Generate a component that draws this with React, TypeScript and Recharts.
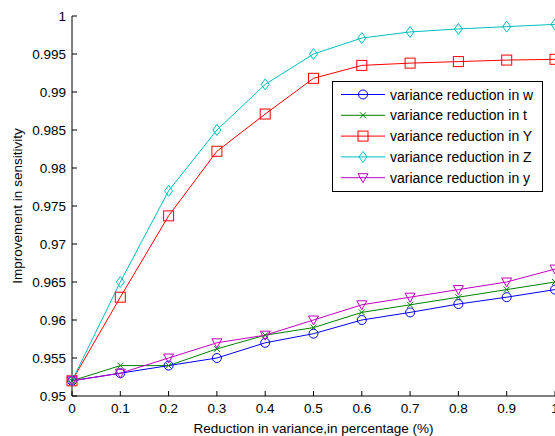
import { Legend, Line, LineChart, XAxis, YAxis } from 'recharts'

const X_VALUES = [0, 0.1, 0.2, 0.3, 0.4, 0.5, 0.6, 0.7, 0.8, 0.9, 1]
const W_VALUES = [0.952, 0.953, 0.954, 0.955, 0.957, 0.9582, 0.96, 0.961, 0.9621, 0.963, 0.964]
const T_VALUES = [0.952, 0.954, 0.954, 0.9562, 0.958, 0.959, 0.961, 0.962, 0.963, 0.964, 0.965]
const BIG_Y_VALUES = [0.952, 0.963, 0.9737, 0.9822, 0.9871, 0.9918, 0.9935, 0.9938, 0.994, 0.9942, 0.9943]
const Z_VALUES = [0.952, 0.965, 0.977, 0.985, 0.991, 0.995, 0.9971, 0.9979, 0.9983, 0.9986, 0.9989]
const SMALL_Y_VALUES = [0.952, 0.953, 0.955, 0.957, 0.958, 0.96, 0.962, 0.963, 0.964, 0.965, 0.9667]

const X_TICKS = [0, 0.1, 0.2, 0.3, 0.4, 0.5, 0.6, 0.7, 0.8, 0.9, 1]
const Y_TICKS = [0.95, 0.955, 0.96, 0.965, 0.97, 0.975, 0.98, 0.985, 0.99, 0.995, 1]

type Shape = 'circle' | 'x' | 'square' | 'diamond' | 'triangle'

const SERIES: { key: string; name: string; color: string; shape: Shape; values: number[] }[] = [
  { key: 'w', name: 'variance reduction in w', color: '#0000ff', shape: 'circle', values: W_VALUES },
  { key: 't', name: 'variance reduction in t', color: '#008000', shape: 'x', values: T_VALUES },
  { key: 'Y', name: 'variance reduction in Y', color: '#ff0000', shape: 'square', values: BIG_Y_VALUES },
  { key: 'Z', name: 'variance reduction in Z', color: '#00bfbf', shape: 'diamond', values: Z_VALUES },
  { key: 'y', name: 'variance reduction in y', color: '#bf00bf', shape: 'triangle', values: SMALL_Y_VALUES },
]

const rows = X_VALUES.map((x, i) => {
  const row: Record<string, number> = { x }
  SERIES.forEach((s) => {
    row[s.key] = s.values[i]
  })
  return row
})

const FONT = 'Arial, "Liberation Sans", Helvetica, sans-serif'

function Marker({ shape, cx, cy, color }: { shape: Shape; cx: number; cy: number; color: string }) {
  const common = { fill: 'none', stroke: color, strokeWidth: 1 }
  switch (shape) {
    case 'circle':
      return <circle cx={cx} cy={cy} r={4.5} {...common} />
    case 'x':
      return (
        <path
          d={`M${cx - 3},${cy - 3}L${cx + 3},${cy + 3}M${cx - 3},${cy + 3}L${cx + 3},${cy - 3}`}
          {...common}
        />
      )
    case 'square':
      return <rect x={cx - 5} y={cy - 5} width={10} height={10} {...common} />
    case 'diamond':
      return <path d={`M${cx},${cy - 5.5}L${cx + 4},${cy}L${cx},${cy + 5.5}L${cx - 4},${cy}Z`} {...common} />
    case 'triangle':
      return <path d={`M${cx - 5},${cy - 4}L${cx + 5},${cy - 4}L${cx},${cy + 5}Z`} {...common} />
  }
}

function markerDot(shape: Shape, color: string) {
  return (p: any) => (
    <g key={`dot-${p.index}`}>
      <Marker shape={shape} cx={p.cx} cy={p.cy} color={color} />
    </g>
  )
}

function LegendBox() {
  return (
    <svg width={211} height={111} style={{ display: 'block' }}>
      <rect x={0.5} y={0.5} width={210} height={110} fill="#fff" stroke="#000" strokeWidth={1} />
      {SERIES.map((s, i) => {
        const cy = 13.5 + i * 20.8
        return (
          <g key={s.key}>
            <line x1={9} x2={53} y1={cy} y2={cy} stroke={s.color} strokeWidth={1} />
            <Marker shape={s.shape} cx={31} cy={cy} color={s.color} />
            <text x={58} y={cy} dominantBaseline="central" fontSize={14} fontFamily={FONT} fill="#000">
              {s.name}
            </text>
          </g>
        )
      })}
    </svg>
  )
}

const fmt = (v: number) => String(Number(v.toFixed(3)))

export default function App() {
  const tickStyle = { fill: '#000', fontSize: 13.5, fontFamily: FONT }
  return (
    <div
      style={{
        position: 'absolute',
        left: 0,
        top: 0,
        width: 555,
        height: 436,
        overflow: 'hidden',
        background: '#fff',
      }}
    >
      <LineChart width={560} height={436} data={rows} margin={{ top: 16, right: 5, bottom: 0, left: 0 }}>
        <XAxis
          dataKey="x"
          type="number"
          domain={[0, 1]}
          ticks={X_TICKS}
          tickFormatter={fmt}
          height={40}
          stroke="#000"
          tickSize={-5}
          tickMargin={12}
          tick={tickStyle}
          interval={0}
          label={{
            value: 'Reduction in variance,in percentage (%)',
            position: 'insideBottom',
            offset: 3,
            fill: '#000',
            fontSize: 13.5,
            fontFamily: FONT,
          }}
        />
        <XAxis
          xAxisId="top"
          dataKey="x"
          type="number"
          orientation="top"
          domain={[0, 1]}
          ticks={X_TICKS}
          height={0}
          stroke="#000"
          tickSize={-5}
          tick={false}
          interval={0}
        />
        <YAxis
          type="number"
          domain={[0.95, 1]}
          ticks={Y_TICKS}
          tickFormatter={fmt}
          width={72}
          stroke="#000"
          tickSize={-5}
          tickMargin={11}
          tick={tickStyle}
          interval={0}
          label={{
            value: 'Improvement in sensitivity',
            angle: -90,
            position: 'center',
            dx: -19,
            fill: '#000',
            fontSize: 13.5,
            fontFamily: FONT,
          }}
        />
        <YAxis
          yAxisId="right"
          type="number"
          orientation="right"
          domain={[0.95, 1]}
          ticks={Y_TICKS}
          width={0}
          stroke="#000"
          tickSize={-5}
          tick={false}
          interval={0}
        />
        {SERIES.map((s) => (
          <Line
            key={s.key}
            dataKey={s.key}
            name={s.name}
            type="linear"
            stroke={s.color}
            strokeWidth={1}
            dot={markerDot(s.shape, s.color)}
            activeDot={false}
            isAnimationActive={false}
          />
        ))}
        <Legend
          layout="horizontal"
          align="center"
          verticalAlign="middle"
          content={() => <LegendBox />}
          wrapperStyle={{ left: 332, top: 81, width: 211, height: 111 }}
        />
      </LineChart>
    </div>
  )
}
